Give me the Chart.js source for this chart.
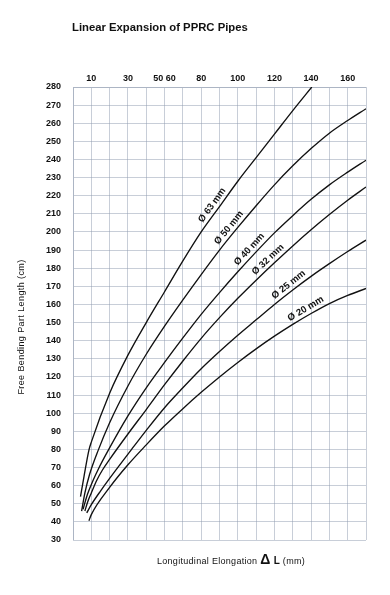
<!DOCTYPE html>
<html>
<head>
<meta charset="utf-8">
<script src="https://cdn.jsdelivr.net/npm/chart.js@4.4.0/dist/chart.umd.min.js"></script>
<style>
html,body{margin:0;padding:0;background:#fff;}
</style>
</head>
<body>
<canvas id="myChart" width="390" height="595"></canvas>
<script>
// tick labels of the top axis (axis runs in grid columns x10)
var xTickPos = [10, 30, 50, 70, 90, 110, 130, 150];
var xTickText = ['10', '30', '50 60', '80', '100', '120', '140', '160'];

var diameters = ['Ø 63 mm', 'Ø 50 mm', 'Ø 40 mm', 'Ø 32 mm', 'Ø 25 mm', 'Ø 20 mm'];

var d63x = [4.1, 6, 8.7, 10, 20, 30, 40, 50, 60, 70, 80, 90, 100, 110, 120, 130.4];
var d63y = [54, 65, 79.6, 84, 111, 132, 150, 167, 184, 200, 214, 228, 241, 254, 267, 280];

var d50x = [4.7, 6.5, 9, 13.8, 20, 30, 40, 50, 60, 70, 80, 90, 100, 110, 120, 130, 140, 150, 160];
var d50y = [46, 56, 66, 79.6, 94.7, 115, 132.5, 148, 162.5, 176.5, 190, 202.5, 214.5, 226, 236.5, 246, 254.5, 261.5, 268];

var d40x = [5.5, 8, 11, 14, 18.7, 30, 40, 50, 60, 70, 80, 90, 100, 110, 120, 130, 140, 150, 160];
var d40y = [47, 55.5, 63, 69.5, 78.5, 98.5, 114, 128, 141.5, 154.5, 166.5, 178, 189, 199.5, 209, 218, 226, 233, 239.6];

var d32x = [6.5, 8, 10, 13, 16, 20, 30, 40, 50, 60, 70, 80, 90, 100, 110, 120, 130, 140, 150, 160];
var d32y = [46, 51, 56, 63, 68.5, 74.5, 88.5, 102, 115.7, 128.8, 141.3, 152.7, 163.4, 173.4, 183, 192.3, 201.2, 209.6, 217.5, 224.8];

var d25x = [7.5, 10, 15, 20, 32, 40, 50, 60, 70, 80, 90, 100, 110, 120, 130, 140, 150, 160];
var d25y = [45, 49.5, 57, 64, 80, 90.5, 103, 114, 124.5, 134, 143, 151.5, 160, 168, 175.5, 182.5, 189.2, 195.5];

var d20x = [8.7, 10, 20, 30, 40, 50, 60, 70, 80, 90, 100, 110, 120, 130, 140, 150, 160];
var d20y = [40.6, 44, 59, 71.5, 82.5, 93, 102.5, 111.5, 120, 128, 135.5, 142.5, 149, 155, 160.5, 165, 168.8];

var curvesX = [d63x, d50x, d40x, d32x, d25x, d20x];
var curvesY = [d63y, d50y, d40y, d32y, d25y, d20y];

function pairs(xs, ys) {
  var out = [];
  for (var i = 0; i < xs.length; i++) out.push({x: xs[i], y: ys[i]});
  return out;
}

var gridColor = 'rgba(145,158,178,0.5)';
var fontFam = '"Liberation Sans", Arial, sans-serif';

var datasets = [];
for (var k = 0; k < diameters.length; k++) {
  datasets.push({
    label: diameters[k],
    data: pairs(curvesX[k], curvesY[k]),
    borderColor: '#111',
    borderWidth: 1.35,
    pointRadius: 0,
    fill: false,
    cubicInterpolationMode: 'monotone'
  });
}

// text on the curves and free texts
var curveLabels = {
  id: 'curveLabels',
  afterDatasetsDraw: function(chart, args, opts) {
    var ctx = chart.ctx, xs = chart.scales.x, ys = chart.scales.y;
    chart.data.datasets.forEach(function(ds, k) {
      var at = opts.at[k];
      var pts = ds.data;
      for (var j = 0; j < pts.length - 1; j++) {
        if (pts[j].x <= at && pts[j + 1].x >= at) {
          var t = (at - pts[j].x) / (pts[j + 1].x - pts[j].x);
          var yv = pts[j].y + t * (pts[j + 1].y - pts[j].y);
          var px = xs.getPixelForValue(at), py = ys.getPixelForValue(yv);
          var ang = Math.atan2(ys.getPixelForValue(pts[j + 1].y) - ys.getPixelForValue(pts[j].y),
                               xs.getPixelForValue(pts[j + 1].x) - xs.getPixelForValue(pts[j].x));
          ctx.save();
          ctx.translate(px, py);
          ctx.rotate(ang);
          ctx.font = 'bold 9.5px ' + fontFam;
          ctx.fillStyle = '#111';
          ctx.textAlign = 'center';
          ctx.textBaseline = 'bottom';
          ctx.fillText(ds.label, 0, -2);
          ctx.restore();
          break;
        }
      }
    });
  },
  afterDraw: function(chart) {
    var ctx = chart.ctx;
    ctx.save();
    ctx.fillStyle = '#111';
    ctx.font = 'bold 11.3px ' + fontFam;
    ctx.textAlign = 'left';
    ctx.textBaseline = 'alphabetic';
    ctx.fillText('Linear Expansion of PPRC Pipes', 72, 31);

    // y title
    ctx.save();
    ctx.translate(22, 327);
    ctx.rotate(-Math.PI / 2);
    ctx.font = '9px ' + fontFam;
    ctx.textAlign = 'center';
    ctx.textBaseline = 'middle';
    ctx.letterSpacing = '0.4px';
    ctx.fillText('Free Bending Part Length (cm)', 0, 0);
    ctx.restore();

    // x title, pieces
    var parts = [
      ['Longitudinal Elongation ', '9px ' + fontFam],
      ['Δ', 'bold 14px ' + fontFam],
      [' L', 'bold 10px ' + fontFam],
      [' (mm)', '9px ' + fontFam]
    ];
    ctx.letterSpacing = '0.3px';
    var total = 0;
    parts.forEach(function(p) { ctx.font = p[1]; total += ctx.measureText(p[0]).width; });
    var x = 231 - total / 2;
    ctx.textAlign = 'left';
    ctx.textBaseline = 'alphabetic';
    parts.forEach(function(p) {
      ctx.font = p[1];
      ctx.fillText(p[0], x, 564);
      x += ctx.measureText(p[0]).width;
    });
    ctx.restore();
  }
};

const ctx = document.getElementById('myChart');
const myChart = new Chart(ctx, {
  type: 'line',
  data: { datasets: datasets },
  options: {
    responsive: false,
    animation: false,
    layout: { padding: { left: 0, right: 24, top: 0, bottom: 55 } },
    plugins: {
      legend: { display: false },
      tooltip: { enabled: false },
      curveLabels: { at: [79, 88, 99, 109, 120, 129] }
    },
    scales: {
      x: {
        type: 'linear',
        position: 'top',
        min: 0,
        max: 160,
        grid: { color: gridColor, drawTicks: false },
        border: { color: gridColor },
        ticks: {
          stepSize: 10,
          autoSkip: false,
          maxRotation: 0,
          padding: 3,
          color: '#111',
          font: { family: fontFam, size: 9, weight: 'bold' },
          callback: function(value) {
            var i = xTickPos.indexOf(value);
            return i >= 0 ? xTickText[i] : '';
          }
        },
        afterFit: function(scale) { scale.height = 87; }
      },
      y: {
        type: 'linear',
        min: 30,
        max: 280,
        grid: { color: gridColor, drawTicks: false },
        border: { color: gridColor },
        ticks: {
          stepSize: 10,
          autoSkip: false,
          padding: 12,
          color: '#111',
          font: { family: fontFam, size: 9, weight: 'bold' }
        },
        afterFit: function(scale) { scale.width = 73; }
      }
    }
  },
  plugins: [curveLabels]
});
</script>
</body>
</html>
